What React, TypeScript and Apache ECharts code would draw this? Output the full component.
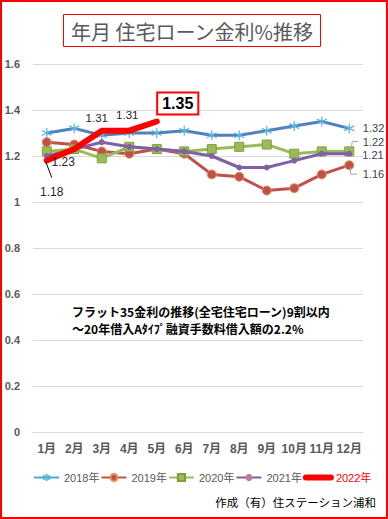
import React, { useEffect, useRef } from 'react';
import * as echarts from 'echarts';

const months = ['1月', '2月', '3月', '4月', '5月', '6月', '7月', '8月', '9月', '10月', '11月', '12月'];
const seriesNames = ['2018年', '2019年', '2020年', '2021年', '2022年'];
const s2018 = [1.30, 1.32, 1.29, 1.30, 1.30, 1.31, 1.29, 1.29, 1.31, 1.33, 1.35, 1.32];
const s2019 = [1.26, 1.25, 1.22, 1.21, 1.23, 1.21, 1.12, 1.11, 1.05, 1.06, 1.12, 1.16];
const s2020 = [1.22, 1.23, 1.19, 1.24, 1.23, 1.22, 1.23, 1.24, 1.25, 1.21, 1.22, 1.22];
const s2021 = [1.20, 1.23, 1.26, 1.24, 1.23, 1.22, 1.20, 1.15, 1.15, 1.18, 1.21, 1.21];
const s2022 = [1.18, 1.23, 1.31, 1.31, 1.35];
const yTicks = { min: 0, max: 1.6, interval: 0.2 };
const titleText = '年月 住宅ローン金利%推移';
const noteLines = ['フラット35金利の推移(全宅住宅ローン)9割以内', '～20年借入Aﾀｲﾌﾟ融資手数料借入額の2.2%'];
const footerText = '作成（有）住ステーション浦和';

const FONT = '"Liberation Sans", "Noto Sans CJK JP", sans-serif';
const JP = '"Noto Sans CJK JP", sans-serif';

export default function App() {
  const ref = useRef<HTMLDivElement>(null);
  useEffect(() => {
    const chart = echarts.init(ref.current!, null, { renderer: 'svg' });

    const rightLabel = (dy: number, distance: number) => ({
      show: true,
      position: 'right',
      distance,
      offset: [0, dy],
      fontSize: 11,
      fontFamily: FONT,
      color: '#3a4450',
      formatter: (p: any) => p.value.toFixed(2),
    });
    const lastLabeled = (arr: number[], dy: number, distance: number) =>
      arr.map((v, i) => (i === arr.length - 1 ? { value: v, label: rightLabel(dy, distance) } : v));

    const offs2022: number[][] = [[5, 31], [-11, 13], [-5, -13], [-2, -16], [21, -18]];
    const data2022 = s2022.map((v, i) => {
      const base: any = {
        show: true,
        position: 'inside',
        offset: offs2022[i],
        fontSize: i >= 2 ? 11.5 : 12,
        fontFamily: FONT,
        color: '#262626',
        formatter: (p: any) => p.value.toFixed(2),
      };
      if (i === s2022.length - 1) {
        Object.assign(base, {
          fontSize: 16,
          fontWeight: 'bold',
          color: '#000',
          backgroundColor: '#fff',
          borderColor: '#ff0000',
          borderWidth: 2,
          padding: [3, 4, 1, 4],
        });
      }
      return { value: v, label: base };
    });

    const option: any = {
      animation: false,
      backgroundColor: '#fff',
      grid: { left: 33, right: 25, top: 64, bottom: 87, containLabel: false },
      xAxis: {
        type: 'category',
        data: months,
        boundaryGap: true,
        axisLine: { show: true, lineStyle: { color: '#d9d9d9', width: 1 } },
        axisTick: { show: false },
        axisLabel: { color: '#595959', fontWeight: 'bold', fontSize: 12, fontFamily: FONT, margin: 11, interval: 0 },
      },
      yAxis: {
        type: 'value',
        min: yTicks.min,
        max: yTicks.max,
        interval: yTicks.interval,
        axisLine: { show: false },
        axisTick: { show: false },
        splitLine: { lineStyle: { color: '#d9d9d9', width: 1 } },
        axisLabel: { color: '#595959', fontWeight: 'bold', fontSize: 11, fontFamily: FONT, margin: 13 },
      },
      legend: {
        left: 28,
        top: 467,
        width: 360,
        itemWidth: 25,
        itemHeight: 9,
        itemGap: 1,
        textStyle: { color: '#595959', fontSize: 11, fontFamily: FONT },
        data: [
          { name: seriesNames[0], lineStyle: { color: '#4BACC6' } },
          seriesNames[1],
          seriesNames[2],
          { name: seriesNames[3], itemStyle: { color: '#C07AA0' } },
          { name: seriesNames[4], textStyle: { color: '#ff0000' }, itemStyle: { opacity: 0 }, lineStyle: { width: 6 } },
        ],
      },
      series: [
        {
          name: seriesNames[0],
          type: 'line',
          data: lastLabeled(s2018, 0, 8),
          symbol: 'path://M5 0 L5 10 M0.7 2.5 L9.3 7.5 M0.7 7.5 L9.3 2.5',
          symbolSize: 10,
          lineStyle: { color: '#4F81BD', width: 3 },
          itemStyle: { color: '#4BACC6', borderColor: '#5BB5E0', borderWidth: 1.2 },
          z: 2,
        },
        {
          name: seriesNames[1],
          type: 'line',
          data: lastLabeled(s2019, 9, 8.5),
          symbol: 'circle',
          symbolSize: 9,
          lineStyle: { color: '#C0504D', width: 3 },
          itemStyle: { color: '#C0504D', borderColor: '#E8954F', borderWidth: 1 },
          z: 3,
        },
        {
          name: seriesNames[2],
          type: 'line',
          data: lastLabeled(s2020, -9, 8.5),
          symbol: 'rect',
          symbolSize: 9,
          lineStyle: { color: '#9BBB59', width: 3 },
          itemStyle: { color: '#9BBB59', borderColor: '#7F9F3F', borderWidth: 1 },
          z: 4,
        },
        {
          name: seriesNames[3],
          type: 'line',
          data: lastLabeled(s2021, 1, 10),
          symbol: 'circle',
          symbolSize: 6,
          lineStyle: { color: '#7F5FA6', width: 3 },
          itemStyle: { color: '#8064A2' },
          z: 5,
        },
        {
          name: seriesNames[4],
          type: 'line',
          data: data2022,
          symbol: 'circle',
          symbolSize: 2,
          lineStyle: { color: '#ff0000', width: 6, cap: 'round', join: 'round' },
          itemStyle: { color: '#ff0000' },
          z: 6,
        },
      ],
    };
    chart.setOption(option);

    const px = (s: number, i: number, v: number) =>
      chart.convertToPixel({ seriesIndex: s }, [i, v]) as number[];
    const p22 = px(4, 0, s2022[0]);
    const p20 = px(2, 11, s2020[11]);
    const p19 = px(1, 11, s2019[11]);

    chart.setOption({
      graphic: [
        {
          type: 'rect',
          shape: { x: 63.5, y: 14.5, width: 257, height: 32 },
          style: { fill: '#fff', stroke: '#ff0000', lineWidth: 1 },
        },
        {
          type: 'text',
          x: 192,
          y: 31,
          style: {
            text: titleText,
            fontSize: 20,
            fontFamily: JP,
            fill: '#595959',
            align: 'center',
            verticalAlign: 'middle',
          },
        },
        {
          type: 'text',
          x: 72,
          y: 311,
          style: { text: noteLines[0], fontSize: 12, fontWeight: 'bold', fontFamily: JP, fill: '#000', verticalAlign: 'middle' },
        },
        {
          type: 'text',
          x: 72,
          y: 328,
          style: { text: noteLines[1], fontSize: 12, fontWeight: 'bold', fontFamily: JP, fill: '#000', verticalAlign: 'middle' },
        },
        {
          type: 'text',
          x: 376,
          y: 502,
          style: { text: footerText, fontSize: 11.5, fontFamily: JP, fill: '#000', align: 'right', verticalAlign: 'middle' },
        },
        {
          type: 'line',
          shape: { x1: p22[0] - 1, y1: p22[1] + 1, x2: p22[0] + 5, y2: p22[1] + 17 },
          style: { stroke: '#000', lineWidth: 1 },
          z: 10,
        },
        {
          type: 'polyline',
          shape: { points: [[p20[0] + 2, p20[1] - 3], [p20[0] + 3, p20[1] - 10], [p20[0] + 9, p20[1] - 10]] },
          style: { stroke: '#a6a6a6', lineWidth: 1, fill: 'none' },
          z: 10,
        },
        {
          type: 'polyline',
          shape: { points: [[p19[0] + 1, p19[1] + 2], [p19[0] + 1.5, p19[1] + 9], [p19[0] + 8, p19[1] + 9]] },
          style: { stroke: '#a6a6a6', lineWidth: 1, fill: 'none' },
          z: 10,
        },
      ],
    });

    return () => chart.dispose();
  }, []);

  return (
    <div style={{ position: 'fixed', left: 0, top: 0, width: 388, height: 519, background: '#fff' }}>
      <div ref={ref} style={{ width: 388, height: 519 }} />
      <div
        style={{
          position: 'absolute',
          left: 0,
          top: 0,
          width: 388,
          height: 519,
          boxSizing: 'border-box',
          border: '2px solid #ff0000',
          pointerEvents: 'none',
        }}
      />
    </div>
  );
}
